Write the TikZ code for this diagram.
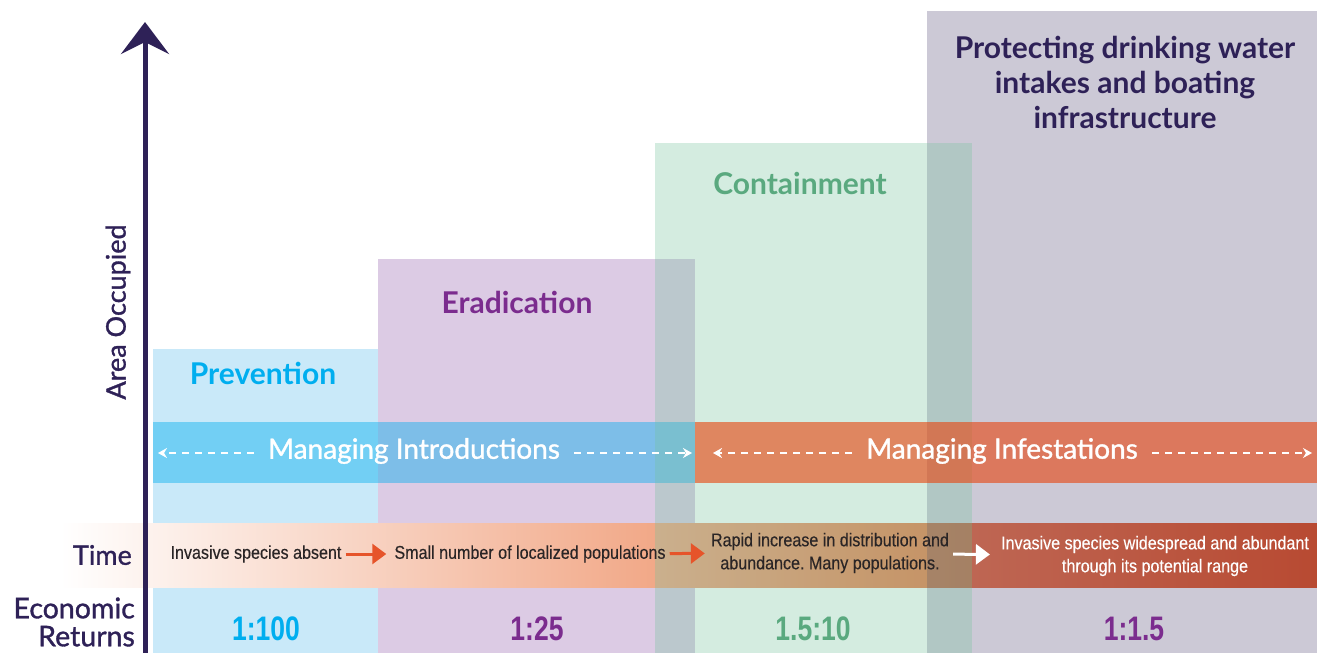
\documentclass[tikz,border=0pt]{standalone}
\usepackage{fontspec}
\setmainfont{Liberation Sans}
\newfontfamily\headfont{Lato}
\newfontfamily\medfont{Lato}[FakeBold=1.2]
\newfontfamily\condfont{Liberation Sans}[FakeStretch=0.87,FakeBold=0.3]
\newfontfamily\numfont{Liberation Sans}[FakeStretch=0.78]
\usetikzlibrary{arrows.meta,positioning}
\frenchspacing

\definecolor{axiscol}{HTML}{2E2157}
\definecolor{prevcol}{HTML}{C9E9F9}
\definecolor{eradcol}{HTML}{DCCBE4}
\definecolor{contcol}{RGB}{116,194,155}
\definecolor{cyantxt}{HTML}{00AEEF}
\definecolor{purptxt}{HTML}{7B2C8E}
\definecolor{greentxt}{HTML}{5AA97F}
\definecolor{infcol}{RGB}{230,74,22}
\definecolor{arrcol}{HTML}{E6542A}
\definecolor{barend}{HTML}{EA7A48}
\definecolor{redA}{HTML}{BE6653}
\definecolor{redB}{HTML}{B84A32}
\definecolor{txtgray}{HTML}{2A2526}

\tikzset{
	head/.style={font=\headfont\bfseries\fontsize{30}{35}\selectfont, inner sep=0},
	lbl/.style={font=\medfont\fontsize{27}{28}\selectfont, text=axiscol, inner sep=0},
	mng/.style={font=\medfont\fontsize{28}{30}\selectfont, text=white, inner xsep=14pt},
	ttext/.style={font=\condfont\fontsize{18.5}{23}\selectfont, text=txtgray, inner sep=4pt},
	num/.style={font=\numfont\bfseries\fontsize{34}{36}\selectfont, inner sep=0},
	dasharr/.style={white, line width=1.5pt, dash pattern=on 7pt off 6pt, -{Stealth[length=9pt,width=10pt]}},
	tarr/.style={arrcol, line width=3pt, -{Triangle[length=14pt,width=20pt]}},
	axisarr/.style={axiscol, line width=5pt, -{Stealth[length=32pt,width=48pt,inset=12pt]}}
}

\begin{document}
\begin{tikzpicture}[x=1pt,y=-1pt]
	\useasboundingbox (0,0) rectangle (1317,653);

	%%stage boxes
	\fill[prevcol] (153,349) rectangle (380,653);
	\fill[eradcol] (378,259) rectangle (695,653);
	\fill[cyantxt,fill opacity=.43] (153,422) rectangle (695,483);
	%%time bar
	\shade[left color=white,right color=barend] (60,523) rectangle (972,587);
	\fill[axiscol,fill opacity=.245] (927,11) rectangle (1317,653);
	\fill[contcol,fill opacity=.31] (655,143) rectangle (972,653);
	\fill[infcol,fill opacity=.63] (695,422) rectangle (1317,483);
	\shade[left color=redA,right color=redB] (972,523) rectangle (1317,587);

	%%axis
	\coordinate (axbot) at (145,653);
	\coordinate (axtop) at (145,22);
	\draw[axisarr] (axbot) -- (axtop);

	%%headings
	\node[head,text=cyantxt] (prevtitle) at (263,373) {Prevention};
	\node[head,text=purptxt] (eradtitle) at (517,302) {Eradication};
	\node[head,text=greentxt] (conttitle) at (800,183) {Containment};
	\node[head,text=axiscol,align=center] (prottitle) at (1125,82) {Protecting drinking water\\intakes and boating\\infrastructure};

	%%side labels
	\node[lbl,rotate=90] (area) at (118,312) {Area Occupied};
	\node[lbl,anchor=east] (time) at (132,555) {Time};
	\node[lbl,anchor=east,align=right,font=\medfont\fontsize{28.5}{28}\selectfont] (econ) at (135,622) {Economic\\Returns};

	%%managing bars
	\node[mng] (intro) at (414,451) {Managing Introductions};
	\node[mng] (infest) at (1002,451) {Managing Infestations};
	\coordinate (introL) at (158,453);
	\coordinate (introR) at (692,453);
	\coordinate (infestL) at (713,453);
	\coordinate (infestR) at (1312,453);
	\draw[dasharr] (intro.west |- introL) -- (introL);
	\draw[dasharr] (intro.east |- introR) -- (introR);
	\draw[dasharr] (infest.west |- infestL) -- (infestL);
	\draw[dasharr] (infest.east |- infestR) -- (infestR);

	%%time steps
	\node[ttext] (t1) at (256,554) {Invasive species absent};
	\node[ttext] (t2) at (530,554) {Small number of localized populations};
	\node[ttext,align=center] (t3) at (830,553) {Rapid increase in distribution and\\abundance. Many populations.};
	\node[ttext,text=white,align=center] (t4) at (1155,556) {Invasive species widespread and abundant\\through its potential range};
	\draw[tarr,shorten >=4pt] (t1) -- (t2);
	\draw[tarr,shorten >=2pt] (t2) -- (t3);
	\draw[tarr,white,shorten >=7pt] (t3) -- (t4);

	%%economic returns
	\node[num,text=cyantxt] (r1) at (266,629) {1:100};
	\node[num,text=purptxt] (r2) at (537,629) {1:25};
	\node[num,text=greentxt] (r3) at (813,629) {1.5:10};
	\node[num,text=purptxt] (r4) at (1134,629) {1:1.5};
\end{tikzpicture}
\end{document}
